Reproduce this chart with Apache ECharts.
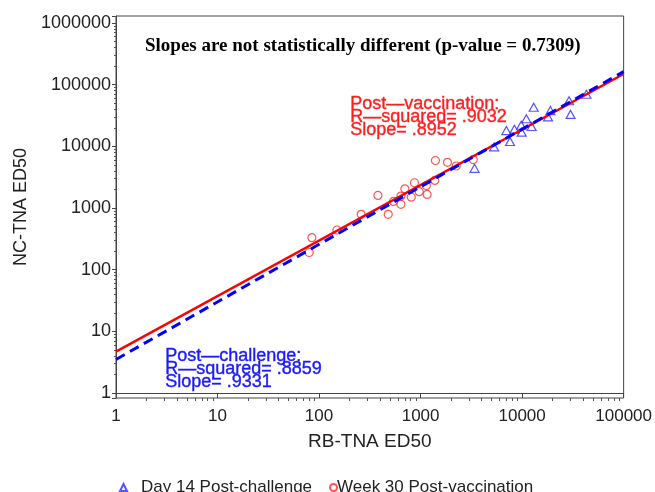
<!DOCTYPE html>
<html>
<head>
<meta charset="utf-8">
<script src="https://cdn.jsdelivr.net/npm/echarts@6/dist/echarts.min.js"></script>
<style>
  html, body { margin: 0; padding: 0; background: #fff; }
  #report { width: 655px; height: 492px; }
</style>
</head>
<body>
<div id="report"></div>
<script>
// Day 14 post-challenge (triangles)
var challengeX = [3400, 5300, 7000, 7600, 8400, 9800, 9900, 11000, 12400, 13000, 18000, 19000, 29000, 30000, 43000];
var challengeY = [4400, 9800, 18000, 12000, 19000, 22000, 17000, 28000, 21000, 43000, 30000, 38000, 55000, 33000, 70000];

// Week 30 post-vaccination (circles)
var vaccineX = [85, 80, 150, 260, 480, 380, 540, 640, 640, 700, 810, 870, 970, 1140, 1160, 1380, 1400, 1840, 2240, 3300];
var vaccineY = [330, 190, 440, 790, 790, 1600, 1280, 1150, 1560, 2050, 1500, 2570, 1840, 2320, 1660, 2800, 5900, 5500, 4800, 6100];

// regression lines, end points
var vaccineFitX = [1, 100000];
var vaccineFitY = [4.7, 149000];
var challengeFitX = [1, 100000];
var challengeFitY = [3.5, 163000];

var title = 'Slopes are not statistically different (p-value = 0.7309)';
var vaccineNote = 'Post\u2014vaccination:\nR\u2014squared= .9032\nSlope= .8952';
var challengeNote = 'Post\u2014challenge:\nR\u2014squared= .8859\nSlope= .9331';

var xMin = 1, xMax = 100000;
var yMin = 0.83, yMax = 1300000;

function pairs(xs, ys) {
  return xs.map(function (x, i) { return [x, ys[i]]; });
}
function decadeLabel(v) {
  var e = Math.log10(v);
  return Math.abs(e - Math.round(e)) < 1e-6 ? String(Math.round(v)) : '';
}
// minor tick positions (2..9 in every decade), as exponents for a plain value axis
function minorTicks(fromExp, toExp) {
  var out = [];
  for (var e = fromExp; e < toExp; e++) {
    for (var d = 2; d <= 9; d++) out.push(e + Math.log10(d));
  }
  return out;
}

var axisFont = 'Liberation Sans, Arial';
var myChart = echarts.init(document.getElementById('report'));

option = {
  animation: false,
  title: {
    text: title,
    left: 140,
    top: 32,
    textStyle: { fontFamily: 'Liberation Serif, Times New Roman, serif', fontWeight: 'bold', fontSize: 19, color: '#000' }
  },
  grid: {
    left: 116, right: 31, top: 16, bottom: 94,
    show: true, borderColor: '#444', borderWidth: 1
  },
  legend: [
    {
      left: 114, top: 474,
      itemWidth: 7, itemHeight: 7,
      data: [{ name: 'Day 14 Post-challenge', icon: 'triangle' }],
      textStyle: { fontFamily: axisFont, fontSize: 17, color: '#222', padding: [0, 0, 0, 9] }
    },
    {
      left: 324, top: 474,
      itemWidth: 7, itemHeight: 7,
      data: [{ name: 'Week 30 Post-vaccination', icon: 'circle' }],
      textStyle: { fontFamily: axisFont, fontSize: 17, color: '#222', padding: [0, 0, 0, -5] }
    }
  ],
  xAxis: [
    {
      type: 'log',
      logBase: 10,
      min: xMin,
      max: xMax,
      name: 'RB-TNA ED50',
      nameLocation: 'middle',
      nameGap: 34,
      nameTextStyle: { fontFamily: axisFont, fontSize: 19, color: '#222' },
      axisLine: { lineStyle: { color: '#444' } },
      axisTick: { inside: false, length: 5, lineStyle: { color: '#444' } },
      axisLabel: { margin: 10, fontFamily: axisFont, fontSize: 17, color: '#222', formatter: decadeLabel },
      splitLine: { show: false }
    },
    {
      // minor ticks only
      type: 'value',
      min: Math.log10(xMin),
      max: Math.log10(xMax),
      position: 'bottom',
      axisLine: { show: false },
      axisTick: { show: true, inside: false, length: 3, lineStyle: { color: '#555' }, customValues: minorTicks(0, 5) },
      axisLabel: { show: false },
      splitLine: { show: false }
    }
  ],
  yAxis: [
    {
      type: 'log',
      logBase: 10,
      min: yMin,
      max: yMax,
      name: 'NC-TNA ED50',
      nameLocation: 'middle',
      nameGap: 85,
      nameTextStyle: { fontFamily: axisFont, fontSize: 18, color: '#222' },
      axisLine: { lineStyle: { color: '#444' } },
      axisTick: { inside: false, length: 4, lineStyle: { color: '#444' } },
      axisLabel: { margin: 5, fontFamily: axisFont, fontSize: 18, color: '#222', formatter: decadeLabel },
      splitLine: { show: false }
    },
    {
      // minor ticks only
      type: 'value',
      min: Math.log10(yMin),
      max: Math.log10(yMax),
      position: 'left',
      axisLine: { show: false },
      axisTick: { show: true, inside: false, length: 2, lineStyle: { color: '#555' }, customValues: minorTicks(0, 6) },
      axisLabel: { show: false },
      splitLine: { show: false }
    }
  ],
  graphic: [
    {
      type: 'text', left: 350, top: 95, z: 100,
      style: { text: vaccineNote, fill: '#ff1f1f', stroke: '#ff1f1f', lineWidth: 0.4, font: '18px "Liberation Sans", Arial', lineHeight: 13 }
    },
    {
      type: 'text', left: 165, top: 347, z: 100,
      style: { text: challengeNote, fill: '#1a1aff', stroke: '#1a1aff', lineWidth: 0.4, font: '18px "Liberation Sans", Arial', lineHeight: 13 }
    }
  ],
  series: [
    {
      name: 'Day 14 Post-challenge',
      type: 'scatter',
      symbol: 'triangle',
      symbolSize: [9, 8],
      itemStyle: { color: 'rgba(0,0,0,0)', borderColor: '#2a2aff', borderWidth: 1.2 },
      data: pairs(challengeX, challengeY),
      z: 2
    },
    {
      name: 'Week 30 Post-vaccination',
      type: 'scatter',
      symbol: 'circle',
      symbolSize: 8,
      itemStyle: { color: 'rgba(0,0,0,0)', borderColor: '#ff2a2a', borderWidth: 1.2 },
      data: pairs(vaccineX, vaccineY),
      z: 2
    },
    {
      type: 'line',
      showSymbol: false,
      silent: true,
      lineStyle: { color: '#ff0000', width: 2.5 },
      data: pairs(vaccineFitX, vaccineFitY),
      z: 3
    },
    {
      type: 'line',
      showSymbol: false,
      silent: true,
      lineStyle: { color: '#0000ff', width: 3, type: [10, 6] },
      data: pairs(challengeFitX, challengeFitY),
      z: 4
    }
  ]
};

myChart.setOption(option);
</script>
</body>
</html>
